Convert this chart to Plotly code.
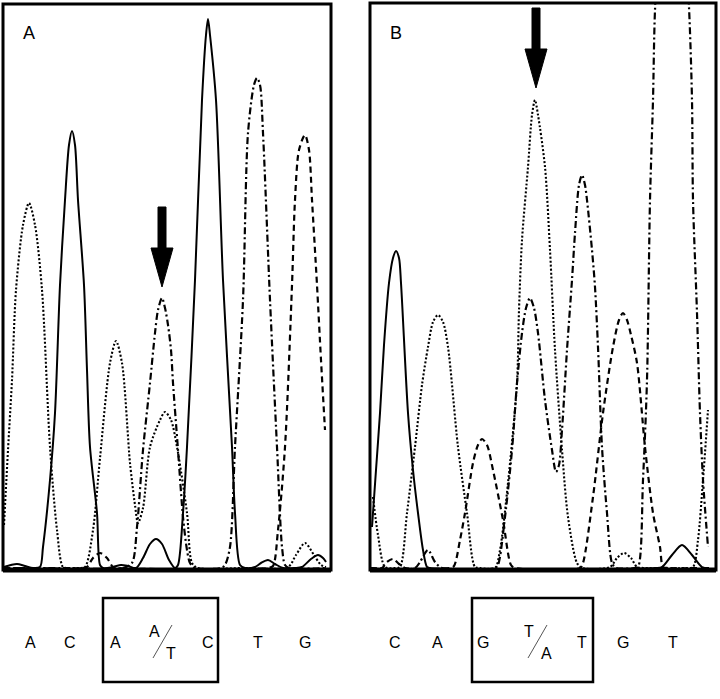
import plotly.graph_objects as go

# ---- trace readings (x = scan position, y = signal) ----
# panel A : sequence A C A A/T C T G
a_dot_x = [1, 5, 9, 13, 20, 26, 32, 39, 47, 54, 60, 66, 75, 82, 90, 97, 107, 113, 119, 127, 132, 135, 140,
           147, 157, 162, 168, 174, 184, 189, 195, 240, 285, 293, 302, 311, 318, 323]
a_dot_y = [45, 120, 190, 280, 345, 367, 345, 280, 123, 40, 3, 2, 2, 3, 40, 112, 207, 229, 207, 107, 65, 47, 62,
           123, 150, 158, 150, 123, 57, 7, 2, 2, 3, 15, 27, 15, 5, 3]

a_sol_x = [1, 8, 14, 22, 30, 37, 40, 47, 52, 57, 62, 66, 69, 72, 75, 81, 84, 87, 94, 97, 100, 110, 118, 125,
           133, 140, 147, 153, 159, 166, 172, 175, 180, 184, 192, 199, 203, 205, 207, 213, 220, 229, 232, 237,
           242, 252, 258, 265, 272, 280, 292, 299, 308, 315, 320, 323]
a_sol_y = [3, 5, 6, 4, 2, 3, 23, 90, 157, 285, 370, 425, 439, 425, 370, 285, 200, 123, 57, 5, 2, 3, 5, 4,
           2, 12, 26, 31, 26, 10, 2, 5, 57, 123, 290, 470, 535, 551, 535, 470, 290, 123, 57, 5,
           2, 3, 7, 10, 6, 2, 2, 3, 11, 15, 12, 8]

a_dd_x = [0, 60, 120, 129, 134, 140, 147, 152, 155, 159, 162, 165, 168, 170, 175, 180, 184, 187, 192, 218, 222,
          227, 232, 240, 245, 251, 254, 257, 260, 267, 274, 279, 282, 286, 323]
a_dd_y = [2, 2, 2, 7, 43, 120, 187, 237, 260, 272, 262, 245, 220, 187, 120, 53, 20, 7, 2, 2, 5,
          23, 123, 270, 437, 485, 492, 485, 437, 270, 123, 23, 5, 2, 2]

a_dash_x = [0, 80, 84, 90, 97, 104, 110, 115, 265, 270, 275, 282, 289, 292, 296, 302, 306, 309, 314, 318, 322]
a_dash_y = [2, 2, 3, 12, 17, 12, 3, 2, 2, 4, 40, 123, 285, 370, 420, 435, 420, 370, 285, 210, 140]

# panel B : sequence C A G T/A T G T
b_sol_x = [2, 6, 10, 14, 19, 23, 26, 29, 31, 38, 43, 48, 53, 57, 60, 285, 292, 302, 312, 322, 332, 339]
b_sol_y = [43, 100, 157, 225, 287, 312, 319, 312, 287, 157, 100, 57, 20, 3, 2, 2, 3, 15, 25, 15, 3, 2]

b_dot_x = [3, 8, 15, 25, 30, 37, 45, 52, 58, 63, 68, 73, 78, 88, 97, 105, 110, 125, 130, 138, 147, 149, 152,
           158, 162, 165, 168, 175, 180, 185, 192, 198, 207, 212, 240, 247, 254, 261, 267, 275, 315, 323, 328,
           333, 338]
b_dot_y = [73, 35, 3, 2, 3, 57, 123, 185, 223, 248, 255, 248, 223, 123, 57, 3, 2, 2, 20, 87, 187, 260, 330,
           403, 455, 470, 455, 403, 320, 220, 120, 53, 7, 2, 3, 12, 17, 12, 3, 2, 2, 3, 30,
           90, 160]

b_dash_x = [0, 12, 17, 23, 29, 35, 80, 84, 90, 95, 103, 108, 112, 117, 123, 133, 141, 145, 210, 213, 223, 233,
            243, 249, 253, 257, 261, 267, 275, 283, 290, 293, 298, 338]
b_dash_y = [2, 2, 8, 11, 6, 2, 2, 4, 30, 57, 107, 125, 131, 125, 100, 50, 5, 2, 2, 7, 73, 157,
            223, 250, 257, 250, 235, 207, 123, 57, 23, 3, 2, 2]

b_dd_x = [0, 45, 50, 58, 65, 72, 125, 128, 135, 142, 147, 152, 156, 160, 164, 168, 175, 182, 186, 189, 192,
          197, 202, 205, 209, 212, 215, 217, 222, 225, 228, 232, 237, 242, 246, 264, 268, 273, 277, 280, 283,
          285, 293, 302, 311, 319, 322, 323, 327, 330, 333, 338]
b_dd_y = [2, 2, 8, 20, 8, 2, 2, 5, 53, 120, 187, 237, 262, 272, 262, 237, 170, 120, 98, 105, 140,
          220, 290, 337, 385, 395, 385, 370, 320, 283, 223, 123, 57, 7, 2, 2, 3, 90, 190, 370, 470,
          560, 700, 740, 700, 563, 470, 370, 257, 157, 90, 23]

# base call labels under each panel
a_bases = ["A", "C", "A", "C", "T", "G"]
a_base_x = [27, 67, 112, 205, 255, 302]
b_bases = ["C", "A", "G", "T", "G", "T"]
b_base_x = [25, 68, 113, 212, 253, 303]
# heterozygous position: (upper, lower, upper x, lower x)
a_het = ("A", "T", 150, 167)
b_het = ("T", "A", 158, 175)

# arrow positions (peak x, tip y, shaft top y)
a_arrow = (159, 283, 363)
b_arrow = (166, 482, 562)

W, H = 720, 699
styles = {
    "dot": dict(color="black", width=2.1, dash="2px,2px"),
    "solid": dict(color="black", width=2),
    "dashdot": dict(color="black", width=2.2, dash="7px,3px,2px,3px"),
    "dash": dict(color="black", width=2.2, dash="6px,4px"),
}

fig = go.Figure()
panels = [
    ("x", "y", [(a_dot_x, a_dot_y, "dot"), (a_sol_x, a_sol_y, "solid"),
                (a_dd_x, a_dd_y, "dashdot"), (a_dash_x, a_dash_y, "dash")]),
    ("x2", "y2", [(b_dot_x, b_dot_y, "dot"), (b_sol_x, b_sol_y, "solid"),
                  (b_dd_x, b_dd_y, "dashdot"), (b_dash_x, b_dash_y, "dash")]),
]
for xa, ya, traces in panels:
    for xs, ys, st in traces:
        assert len(xs) == len(ys), (st, len(xs), len(ys))
        fig.add_trace(go.Scatter(x=xs, y=ys, mode="lines", xaxis=xa, yaxis=ya,
                                 line=dict(shape="spline", smoothing=0.8, **styles[st]),
                                 hoverinfo="skip"))


def py(pix):
    return 1 - pix / H


axis_off = dict(showgrid=False, zeroline=False, showticklabels=False, ticks="", showline=False, fixedrange=True)
fig.update_layout(
    width=W, height=H,
    margin=dict(l=0, r=0, t=0, b=0),
    paper_bgcolor="white", plot_bgcolor="white",
    showlegend=False,
    font=dict(family="Liberation Sans, Arial, sans-serif", size=16, color="black"),
    xaxis=dict(domain=[3 / W, 331 / W], range=[0, 328], **axis_off),
    yaxis=dict(domain=[py(570), py(4)], range=[0, 566], **axis_off),
    xaxis2=dict(domain=[370 / W, 716 / W], range=[0, 346], anchor="y2", **axis_off),
    yaxis2=dict(domain=[py(570), py(3)], range=[0, 567], anchor="x2", **axis_off),
)

shapes = []
annotations = []
for xa, ya, bases, base_x, het, arrow, label, box in [
    ("x", "y", a_bases, a_base_x, a_het, a_arrow, "A", (100, 215)),
    ("x2", "y2", b_bases, b_base_x, b_het, b_arrow, "B", (102, 223)),
]:
    # panel frame
    shapes.append(dict(type="rect", xref=xa + " domain", yref=ya + " domain", x0=0, x1=1, y0=0, y1=1,
                       line=dict(color="black", width=3)))
    shapes.append(dict(type="line", xref=xa + " domain", yref=ya + " domain", x0=0, x1=1, y0=0, y1=0,
                       line=dict(color="black", width=5)))
    # arrow
    cx, tip, top = arrow
    head = tip + 39
    path = (f"M {cx-4},{top} L {cx+4},{top} L {cx+4},{head} L {cx+11},{head} L {cx},{tip} "
            f"L {cx-11},{head} L {cx-4},{head} Z")
    shapes.append(dict(type="path", xref=xa, yref=ya, path=path, fillcolor="black",
                       line=dict(color="black", width=1)))
    # panel label
    annotations.append(dict(text=label, xref=xa, yref="paper", x=26, y=py(33), showarrow=False,
                            font=dict(size=18), xanchor="center", yanchor="middle"))
    # base calls
    for b, bx in zip(bases, base_x):
        annotations.append(dict(text=b, xref=xa, yref="paper", x=bx, y=py(642), showarrow=False,
                                xanchor="center", yanchor="middle"))
    up, low, ux, lx = het
    annotations.append(dict(text=up, xref=xa, yref="paper", x=ux + 1, y=py(631), showarrow=False,
                            xanchor="center", yanchor="middle"))
    annotations.append(dict(text=low, xref=xa, yref="paper", x=lx + 1, y=py(653), showarrow=False,
                            xanchor="center", yanchor="middle"))
    shapes.append(dict(type="line", xref=xa, yref="paper", x0=ux, y0=py(658), x1=lx + 2, y1=py(625),
                       line=dict(color="#555555", width=1)))
    shapes.append(dict(type="rect", xref=xa, yref="paper", x0=box[0], x1=box[1], y0=py(682), y1=py(598),
                       line=dict(color="black", width=2.5)))

fig.update_layout(shapes=shapes, annotations=annotations)
# the page body has a default 8px margin; drop it so the figure sits at the window origin
fig.write_html("out.html", config={"displayModeBar": False},
               post_script="document.body.style.margin='0';document.body.style.overflow='hidden';")
